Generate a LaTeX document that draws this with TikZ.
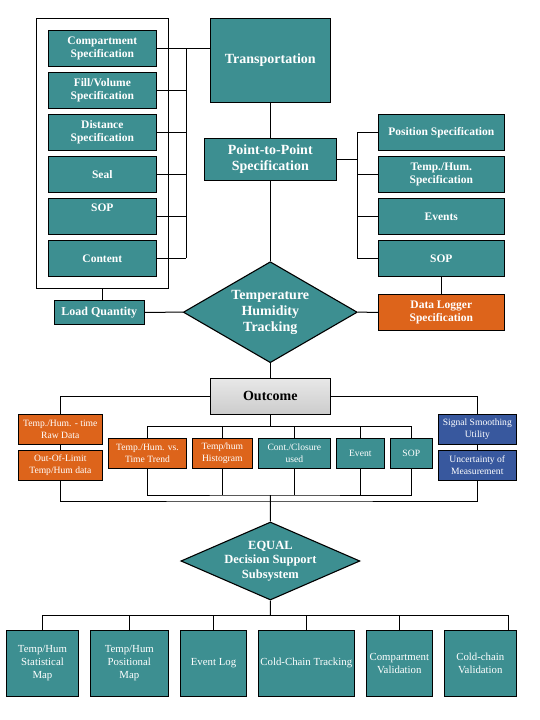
\documentclass[tikz,border=0pt]{standalone}
\usepackage{fontspec}
\setmainfont{Liberation Serif}
\usetikzlibrary{shapes.geometric}
\definecolor{tealbox}{RGB}{61,143,145}
\definecolor{orangebox}{RGB}{221,100,27}
\definecolor{bluebox}{RGB}{56,88,158}
\tikzset{
  box/.style={draw,line width=1.1pt,inner sep=0pt,align=center,text=white,fill=tealbox},
  spec/.style={box,font=\bfseries\fontsize{11.5}{13.3}\selectfont,minimum width=108,minimum height=36},
  rspec/.style={spec,minimum width=126},
  small/.style={box,font=\fontsize{9.6}{12}\selectfont,minimum height=30},
  result/.style={box,font=\fontsize{10.8}{13}\selectfont,minimum height=66},
  decide/.style={diamond,aspect=1.72,draw,line width=1.1pt,inner sep=-3pt,align=center,text=white,fill=tealbox},
  wire/.style={line width=1pt}
}
\begin{document}
\begin{tikzpicture}[x=1pt,y=-1pt]
  \useasboundingbox (0,0) rectangle (540,720);
  \node[draw,line width=1.1pt,minimum width=132,minimum height=270,inner sep=0pt] at (102.3,153.3) (grp) {};
  \node[spec] at (102.3,48.3) (cs) {Compartment\\Specification};
  \node[spec] at (102.3,90.3) (fv) {Fill/Volume\\Specification};
  \node[spec] at (102.3,132.3) (ds) {Distance\\Specification};
  \node[spec] at (102.3,174.3) (sl) {Seal};
  \node[spec] at (102.3,216.3) (sp) {SOP\\\strut};
  \node[spec] at (102.3,258.3) (ct) {Content};
  \node[box,font=\bfseries\fontsize{14}{16}\selectfont,minimum width=120,minimum height=84] at (270.3,60.3) (tr) {Transportation};
  \node[box,font=\bfseries\fontsize{14}{16}\selectfont,minimum width=132,minimum height=42] at (270.3,159.3) (pp) {Point-to-Point\\Specification};
  \node[rspec] at (441.3,132.3) (ps) {Position Specification};
  \node[rspec] at (441.3,174.3) (th) {Temp./Hum.\\Specification};
  \node[rspec] at (441.3,216.3) (ev) {Events};
  \node[rspec] at (441.3,258.3) (rs) {SOP};
  \node[rspec,fill=orangebox] at (441.3,312.3) (dl) {Data Logger\\Specification};
  \node[spec,minimum width=90,minimum height=24,font=\bfseries\fontsize{12}{14}\selectfont] at (99.3,312.3) (ld) {Load Quantity};
  \node[decide,font=\bfseries\fontsize{14}{16}\selectfont,minimum width=174,minimum height=101] at (270.3,312.2) (tht) {Temperature\\Humidity\\Tracking};
  \node[draw,line width=1.1pt,top color=gray!18,middle color=white,bottom color=gray!40,minimum width=120,minimum height=36,font=\bfseries\fontsize{14}{16}\selectfont] at (270.3,396.2) (out) {Outcome};
  \node[small,fill=orangebox,minimum width=84] at (60.3,429.3) (raw) {Temp./Hum. - time\\Raw Data};
  \node[small,fill=orangebox,minimum width=84] at (60.3,465.3) (ool) {Out-Of-Limit\\Temp/Hum data};
  \node[small,fill=bluebox,minimum width=78] at (477.3,429.3) (sm) {Signal Smoothing\\Utility};
  \node[small,fill=bluebox,minimum width=78] at (477.3,465.3) (unc) {Uncertainty of\\Measurement};
  \node[small,fill=orangebox,minimum width=78.4] at (147.5,453.3) (tt) {Temp./Hum. vs.\\Time Trend};
  \node[small,fill=orangebox,minimum width=60] at (222.3,453.3) (hg) {Temp/hum\\Histogram};
  \node[small,minimum width=72] at (294.3,453.3) (cc) {Cont./Closure\\used};
  \node[small,minimum width=48] at (360.3,453.3) (evt) {Event};
  \node[small,minimum width=42] at (411.3,453.3) (so) {SOP};
  \node[decide,font=\bfseries\fontsize{12.5}{14.5}\selectfont,minimum width=179,minimum height=78,aspect=2.29] at (270.4,561) (eq) {EQUAL\\Decision Support\\Subsystem};
  \node[result,minimum width=72.4] at (42.5,663.3) (m1) {Temp/Hum\\Statistical\\Map};
  \node[result,minimum width=78] at (129.3,663.3) (m2) {Temp/Hum\\Positional\\Map};
  \node[result,minimum width=66.4] at (213.5,663.3) (m3) {Event Log};
  \node[result,minimum width=96] at (306.3,663.3) (m4) {Cold-Chain Tracking};
  \node[result,minimum width=66] at (399.3,663.3) (m5) {Compartment\\Validation};
  \node[result,minimum width=72] at (480.3,663.3) (m6) {Cold-chain\\Validation};
  \coordinate (lbus) at (186.3,0);
  \coordinate (rbus) at (357.3,0);
  \coordinate (tb) at (270.3,426.7);
  \coordinate (bb) at (270.3,495);
  \coordinate (bus) at (270.3,501);
  \coordinate (dbus) at (270.3,615.7);
  \draw[wire] (cs.east) -- (cs.east -| tr.west);
  \foreach \n in {fv,ds,sl,sp,ct} \draw[wire] (\n.east) -- (\n.east -| lbus);
  \draw[wire] (cs.east -| lbus) -- (ct.east -| lbus);
  \draw[wire] (tr.south) -- (pp.north);
  \draw[wire] (pp.south) -- (tht.north);
  \draw[wire] (pp.east) -- (pp.east -| rbus);
  \foreach \n in {ps,th,ev,rs} \draw[wire] (\n.west) -- (\n.west -| rbus);
  \draw[wire] (ps.west -| rbus) -- (rs.west -| rbus);
  \draw[wire] (rs.south) -- (dl.north);
  \draw[wire] (grp.south) -- (grp.south |- ld.north);
  \draw[wire] (ld.east) -- (tht.west);
  \draw[wire] (tht.east) -- (dl.west);
  \draw[wire] (tht.south) -- (out.north);
  \draw[wire] (out.west) -| (raw.north);
  \draw[wire] (out.east) -| (sm.north);
  \draw[wire] (raw.south) -- (ool.north);
  \draw[wire] (sm.south) -- (unc.north);
  \draw[wire] (ool.south) |- (bus) -| (unc.south);
  \draw[wire] (out.south) -- (tb);
  \draw[wire] (tt.north) |- (tb) -| (so.north);
  \foreach \n in {hg,cc,evt} \draw[wire] (\n.north) -- (\n.north |- tb);
  \draw[wire] (tt.south) |- (bb) -| (so.south);
  \foreach \n in {hg,cc,evt} \draw[wire] (\n.south) -- (\n.south |- bb);
  \draw[wire] (bb) -- (eq.north);
  \draw[wire] (eq.south) -- (dbus);
  \draw[wire] (m1.north) |- (dbus) -| ([xshift=-8.6pt]m6.north east);
  \foreach \n in {m2,m3,m4,m5} \draw[wire] (\n.north) -- (\n.north |- dbus);
\end{tikzpicture}
\end{document}
